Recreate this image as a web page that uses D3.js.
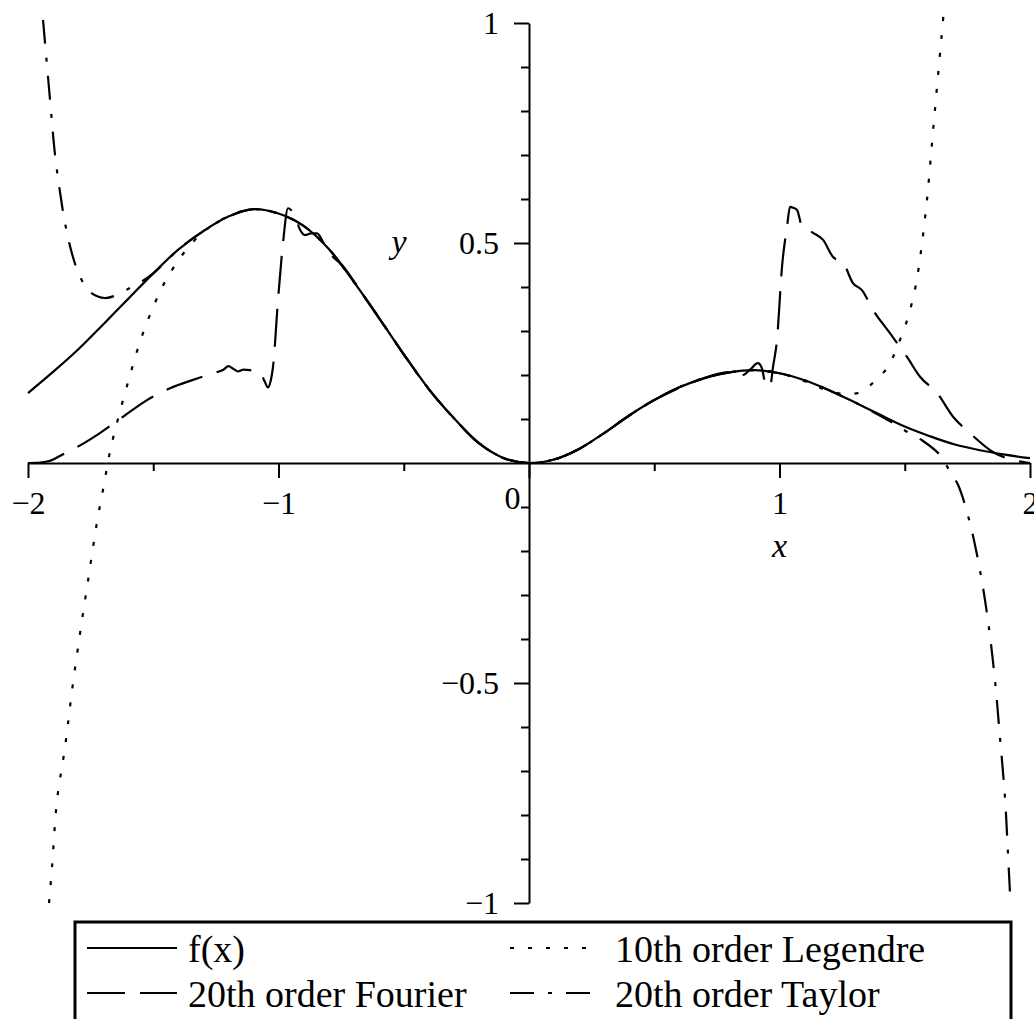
<!DOCTYPE html>
<html>
<head>
<meta charset="utf-8">
<script src="https://cdn.jsdelivr.net/npm/d3@7"></script>
<style>
    body { margin: 0; background: #fff; }
    svg { display: block; }
</style>
</head>
<body>
<div id="chart"></div>
<script>
// f(x), [x, y]
const fData = [
    [-2.0, 0.159], [-1.9, 0.207], [-1.8, 0.258], [-1.7, 0.315], [-1.6, 0.373],
    [-1.5, 0.431], [-1.4, 0.485], [-1.3, 0.527], [-1.2, 0.56], [-1.1, 0.577],
    [-1.0, 0.567], [-0.9, 0.539], [-0.8, 0.487], [-0.7, 0.412], [-0.6, 0.331],
    [-0.5, 0.247], [-0.4, 0.168], [-0.3, 0.102], [-0.2, 0.045], [-0.1, 0.011],
    [0.0, 0.0], [0.1, 0.008], [0.2, 0.032], [0.3, 0.068], [0.4, 0.108],
    [0.5, 0.143], [0.6, 0.172], [0.7, 0.193], [0.8, 0.206], [0.9, 0.211],
    [1.0, 0.204], [1.1, 0.188], [1.2, 0.165], [1.3, 0.138], [1.4, 0.11],
    [1.5, 0.083], [1.6, 0.061], [1.7, 0.042], [1.8, 0.029], [1.9, 0.019],
    [2.0, 0.011],
];

const legendreData = [
    [-1.916, -1.0], [-1.904, -0.918], [-1.884, -0.766], [-1.852, -0.645],
    [-1.824, -0.516], [-1.792, -0.386], [-1.76, -0.266], [-1.725, -0.136],
    [-1.697, -0.05], [-1.673, 0.025], [-1.65, 0.08], [-1.6, 0.185],
    [-1.55, 0.28], [-1.5, 0.355], [-1.45, 0.415], [-1.4, 0.46],
    [-1.35, 0.497], [-1.3, 0.525], [-1.25, 0.546], [-1.2, 0.561],
    [-1.15, 0.572], [-1.1, 0.577], [-1.0, 0.567], [-0.9, 0.539],
    [-0.8, 0.487], [-0.7, 0.412], [-0.6, 0.331], [-0.5, 0.247],
    [-0.4, 0.168], [-0.3, 0.102], [-0.2, 0.045], [-0.1, 0.011],
    [0.0, 0.0], [0.1, 0.008], [0.2, 0.032], [0.3, 0.068], [0.4, 0.108],
    [0.5, 0.143], [0.6, 0.172], [0.7, 0.193], [0.8, 0.206], [0.9, 0.211],
    [1.0, 0.204], [1.1, 0.186], [1.175, 0.168], [1.255, 0.157],
    [1.328, 0.162], [1.381, 0.187], [1.434, 0.219], [1.468, 0.262],
    [1.508, 0.322], [1.541, 0.395], [1.561, 0.465], [1.588, 0.594],
    [1.614, 0.761], [1.654, 1.014],
];

const fourierData = [
    [-2.0, 0.0], [-1.95, 0.001], [-1.912, 0.005], [-1.86, 0.02],
    [-1.792, 0.04], [-1.713, 0.068], [-1.621, 0.105], [-1.525, 0.143],
    [-1.433, 0.17], [-1.341, 0.189], [-1.261, 0.204], [-1.22, 0.212],
    [-1.2, 0.22], [-1.18, 0.214], [-1.162, 0.208], [-1.14, 0.212],
    [-1.114, 0.211], [-1.074, 0.207], [-1.055, 0.185], [-1.042, 0.172],
    [-1.03, 0.19], [-1.022, 0.218], [-1.002, 0.37], [-0.982, 0.5],
    [-0.962, 0.579], [-0.95, 0.575], [-0.934, 0.56], [-0.914, 0.53],
    [-0.894, 0.518], [-0.87, 0.522], [-0.846, 0.522], [-0.82, 0.5],
    [-0.782, 0.468], [-0.75, 0.452], [-0.7, 0.414], [-0.65, 0.372],
    [-0.6, 0.33], [-0.5, 0.247], [-0.4, 0.168], [-0.3, 0.102],
    [-0.2, 0.045], [-0.1, 0.011], [0.0, 0.0], [0.1, 0.008], [0.2, 0.032],
    [0.3, 0.068], [0.4, 0.108], [0.5, 0.143], [0.6, 0.171], [0.7, 0.193],
    [0.76, 0.203], [0.814, 0.207], [0.854, 0.2], [0.882, 0.212],
    [0.914, 0.227], [0.93, 0.215], [0.942, 0.184], [0.962, 0.173],
    [0.974, 0.218], [0.99, 0.28], [1.01, 0.446], [1.03, 0.537],
    [1.042, 0.582], [1.055, 0.58], [1.07, 0.575], [1.09, 0.537],
    [1.134, 0.523], [1.174, 0.507], [1.214, 0.468], [1.254, 0.455],
    [1.293, 0.409], [1.329, 0.393], [1.373, 0.348], [1.441, 0.295],
    [1.509, 0.241], [1.561, 0.196], [1.629, 0.159], [1.693, 0.105],
    [1.76, 0.068], [1.852, 0.025], [1.932, 0.007], [2.0, 0.0],
];

const taylorData = [
    [-1.94, 1.007], [-1.912, 0.825], [-1.892, 0.7], [-1.872, 0.615],
    [-1.852, 0.545], [-1.824, 0.475], [-1.792, 0.423], [-1.753, 0.389],
    [-1.693, 0.375], [-1.645, 0.382], [-1.593, 0.398], [-1.553, 0.41],
    [-1.5, 0.431], [-1.4, 0.485], [-1.3, 0.527], [-1.2, 0.56],
    [-1.1, 0.577], [-1.0, 0.567], [-0.9, 0.539], [-0.8, 0.487],
    [-0.7, 0.412], [-0.6, 0.331], [-0.5, 0.247], [-0.4, 0.168],
    [-0.3, 0.102], [-0.2, 0.045], [-0.1, 0.011], [0.0, 0.0], [0.1, 0.008],
    [0.2, 0.032], [0.3, 0.068], [0.4, 0.108], [0.5, 0.143], [0.6, 0.172],
    [0.7, 0.193], [0.8, 0.206], [0.9, 0.211], [1.0, 0.204], [1.1, 0.188],
    [1.2, 0.165], [1.3, 0.138], [1.4, 0.108], [1.453, 0.091],
    [1.509, 0.071], [1.573, 0.05], [1.641, 0.018], [1.681, -0.02],
    [1.713, -0.05], [1.76, -0.136], [1.8, -0.243], [1.832, -0.357],
    [1.86, -0.493], [1.88, -0.623], [1.9, -0.759], [1.912, -0.886],
    [1.922, -1.0],
];

const xMajorTicks = [-2, -1, 0, 1, 2];
const xMinorTicks = [-1.5, -0.5, 0.5, 1.5];
const yMajorTicks = [-1, -0.5, 0.5, 1];
const yMinorTicks = [
    -0.9, -0.8, -0.7, -0.6, -0.4, -0.3, -0.2, -0.1,
    0.1, 0.2, 0.3, 0.4, 0.6, 0.7, 0.8, 0.9,
];

const seriesNames = ['f(x)', '10th order Legendre', '20th order Fourier', '20th order Taylor'];
const seriesDash = [null, '4,14', '38,15', '24,14,4,14'];
// Fourier has sharp jumps, keep it monotone between points
const seriesCurve = [
    d3.curveCatmullRom.alpha(0.5),
    d3.curveCatmullRom.alpha(0.5),
    d3.curveMonotoneX,
    d3.curveCatmullRom.alpha(0.5),
];

const serif = "'Liberation Serif', 'Times New Roman', serif";
const width = 1034;
const height = 1019;

const fmt = (d) => (d < 0 ? '\u2212' + Math.abs(d) : String(d));

const svg = d3
    .select('#chart')
    .append('svg')
    .attr('width', width)
    .attr('height', height)
    .style('background', '#fff');

const x = d3.scaleLinear().domain([-2, 2]).range([28, 1030]);
const y = d3.scaleLinear().domain([-1, 1]).range([903, 23]);

// axes cross at the origin
const xAxisMinor = svg
    .append('g')
    .attr('transform', `translate(0, ${y(0)})`)
    .call(d3.axisBottom(x).tickValues(xMinorTicks).tickSize(8).tickSizeOuter(0).tickFormat(''));
xAxisMinor.select('.domain').remove();

const xAxis = svg
    .append('g')
    .attr('transform', `translate(0, ${y(0)})`)
    .call(
        d3
            .axisBottom(x)
            .tickValues(xMajorTicks)
            .tickSize(15)
            .tickSizeOuter(0)
            .tickPadding(13)
            .tickFormat(fmt)
    )
    .attr('font-family', serif)
    .attr('font-size', 32);
xAxis
    .selectAll('.tick text')
    .filter((d) => d === 0)
    .attr('text-anchor', 'end')
    .attr('x', -9)
    .attr('y', 23);

const yAxisMinor = svg
    .append('g')
    .attr('transform', `translate(${x(0)}, 0)`)
    .call(d3.axisLeft(y).tickValues(yMinorTicks).tickSize(8).tickSizeOuter(0).tickFormat(''));
yAxisMinor.select('.domain').remove();

const yAxis = svg
    .append('g')
    .attr('transform', `translate(${x(0)}, 0)`)
    .call(
        d3
            .axisLeft(y)
            .tickValues(yMajorTicks)
            .tickSize(15)
            .tickSizeOuter(0)
            .tickPadding(15)
            .tickFormat(fmt)
    )
    .attr('font-family', serif)
    .attr('font-size', 32);

svg.selectAll('.domain, .tick line').attr('stroke-width', 2);
svg.selectAll('.tick text').attr('fill', '#000');

svg.append('text')
    .attr('x', x(1))
    .attr('y', 557)
    .attr('text-anchor', 'middle')
    .attr('font-family', serif)
    .attr('font-style', 'italic')
    .attr('font-size', 34)
    .text('x');

svg.append('text')
    .attr('x', 399)
    .attr('y', 253)
    .attr('text-anchor', 'middle')
    .attr('font-family', serif)
    .attr('font-style', 'italic')
    .attr('font-size', 34)
    .text('y');

// curves
const curves = [fData, legendreData, fourierData, taylorData];

svg.append('g')
    .selectAll('path')
    .data(curves)
    .join('path')
    .attr('d', (d, i) =>
        d3
            .line()
            .x((p) => x(p[0]))
            .y((p) => y(p[1]))
            .curve(seriesCurve[i])(d)
    )
    .attr('fill', 'none')
    .attr('stroke', '#000')
    .attr('stroke-width', 2.2)
    .attr('stroke-dasharray', (_, i) => seriesDash[i]);

// legend
const legendBox = { left: 75, top: 922, right: 1011, bottom: 1030 };
const legendRows = [948, 993];
const legendCols = [{ x0: 87, x1: 177, tx: 188 }, { x0: 510, x1: 592, tx: 615 }];
// order in the legend: f, Legendre / Fourier, Taylor
const legendItems = [0, 1, 2, 3].map((i) => ({
    name: seriesNames[i],
    dash: seriesDash[i],
    row: i < 2 ? 0 : 1,
    col: i % 2,
}));

svg.append('rect')
    .attr('x', legendBox.left)
    .attr('y', legendBox.top)
    .attr('width', legendBox.right - legendBox.left)
    .attr('height', legendBox.bottom - legendBox.top)
    .attr('fill', '#fff')
    .attr('stroke', '#000')
    .attr('stroke-width', 3);

const legend = svg
    .append('g')
    .selectAll('g')
    .data(legendItems)
    .join('g')
    .attr('transform', (d) => `translate(0, ${legendRows[d.row]})`);

legend
    .append('line')
    .attr('x1', (d) => legendCols[d.col].x0)
    .attr('x2', (d) => legendCols[d.col].x1)
    .attr('stroke', '#000')
    .attr('stroke-width', 2.2)
    .attr('stroke-dasharray', (d) => d.dash);

legend
    .append('text')
    .attr('x', (d) => legendCols[d.col].tx)
    .attr('y', 14)
    .attr('font-family', serif)
    .attr('font-size', 38)
    .text((d) => d.name);
</script>
</body>
</html>
